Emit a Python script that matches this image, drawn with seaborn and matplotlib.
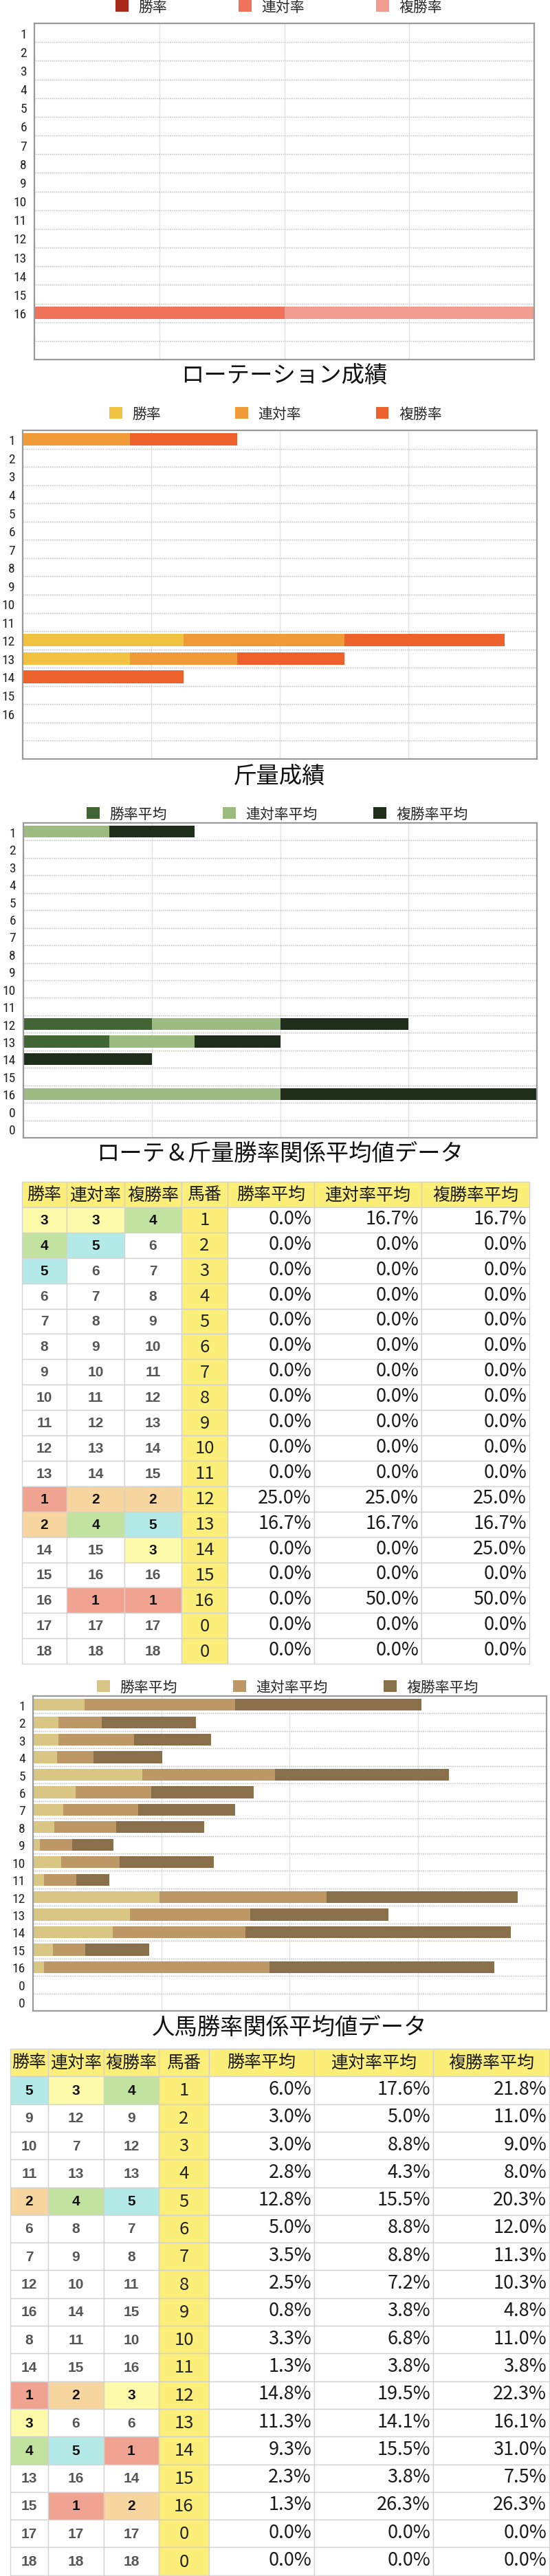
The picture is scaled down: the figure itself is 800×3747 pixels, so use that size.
import numpy as np
import pandas as pd
import matplotlib
matplotlib.use("Agg")
import matplotlib.pyplot as plt
import seaborn as sns
from matplotlib.patches import Rectangle, Patch
from matplotlib import font_manager as fm

sns.set_style("white")
avail = {f.name for f in fm.fontManager.ttflist}
JP = "Noto Sans CJK JP"
plt.rcParams["font.family"] = [JP, "DejaVu Sans"]


def pick(*names):
    for n in names:
        if n in avail:
            return n
    return JP


TICKF = pick("Liberation Sans Narrow", "Roboto Condensed", JP)
RANKF = pick("Liberation Sans", "Roboto", "DejaVu Sans")

# ---------------- data ----------------
labels_blank = [str(i) for i in range(1, 17)] + ["", ""]
labels_zero = [str(i) for i in range(1, 17)] + ["0", "0"]

# chart 1: ローテーション成績
rot_names = ["勝率", "連対率", "複勝率"]
rot_win = [0, 0, 0, 0, 0, 0, 0, 0, 0, 0, 0, 0, 0, 0, 0, 0, 0, 0]
rot_ren = [0, 0, 0, 0, 0, 0, 0, 0, 0, 0, 0, 0, 0, 0, 0, 50.0, 0, 0]
rot_fuku = [0, 0, 0, 0, 0, 0, 0, 0, 0, 0, 0, 0, 0, 0, 0, 50.0, 0, 0]

# chart 2: 斤量成績
kin_names = ["勝率", "連対率", "複勝率"]
kin_win = [0, 0, 0, 0, 0, 0, 0, 0, 0, 0, 0, 25.0, 16.7, 0, 0, 0, 0, 0]
kin_ren = [16.7, 0, 0, 0, 0, 0, 0, 0, 0, 0, 0, 25.0, 16.7, 0, 0, 0, 0, 0]
kin_fuku = [16.7, 0, 0, 0, 0, 0, 0, 0, 0, 0, 0, 25.0, 16.7, 25.0, 0, 0, 0, 0]

avg_names = ["勝率平均", "連対率平均", "複勝率平均"]

# table 1 / chart 3: ローテ＆斤量勝率関係平均値データ
t1_win_rank = [3, 4, 5, 6, 7, 8, 9, 10, 11, 12, 13, 1, 2, 14, 15, 16, 17, 18]
t1_ren_rank = [3, 5, 6, 7, 8, 9, 10, 11, 12, 13, 14, 2, 4, 15, 16, 1, 17, 18]
t1_fuku_rank = [4, 6, 7, 8, 9, 10, 11, 12, 13, 14, 15, 2, 5, 3, 16, 1, 17, 18]
t1_umaban = [1, 2, 3, 4, 5, 6, 7, 8, 9, 10, 11, 12, 13, 14, 15, 16, 0, 0]
t1_win_avg = [0.0, 0.0, 0.0, 0.0, 0.0, 0.0, 0.0, 0.0, 0.0, 0.0, 0.0, 25.0, 16.7, 0.0, 0.0, 0.0, 0.0, 0.0]
t1_ren_avg = [16.7, 0.0, 0.0, 0.0, 0.0, 0.0, 0.0, 0.0, 0.0, 0.0, 0.0, 25.0, 16.7, 0.0, 0.0, 50.0, 0.0, 0.0]
t1_fuku_avg = [16.7, 0.0, 0.0, 0.0, 0.0, 0.0, 0.0, 0.0, 0.0, 0.0, 0.0, 25.0, 16.7, 25.0, 0.0, 50.0, 0.0, 0.0]

# table 2 / chart 4: 人馬勝率関係平均値データ
t2_win_rank = [5, 9, 10, 11, 2, 6, 7, 12, 16, 8, 14, 1, 3, 4, 13, 15, 17, 18]
t2_ren_rank = [3, 12, 7, 13, 4, 8, 9, 10, 14, 11, 15, 2, 6, 5, 16, 1, 17, 18]
t2_fuku_rank = [4, 9, 12, 13, 5, 7, 8, 11, 15, 10, 16, 3, 6, 1, 14, 2, 17, 18]
t2_umaban = [1, 2, 3, 4, 5, 6, 7, 8, 9, 10, 11, 12, 13, 14, 15, 16, 0, 0]
t2_win_avg = [6.0, 3.0, 3.0, 2.8, 12.8, 5.0, 3.5, 2.5, 0.8, 3.3, 1.3, 14.8, 11.3, 9.3, 2.3, 1.3, 0.0, 0.0]
t2_ren_avg = [17.6, 5.0, 8.8, 4.3, 15.5, 8.8, 8.8, 7.2, 3.8, 6.8, 3.8, 19.5, 14.1, 15.5, 3.8, 26.3, 0.0, 0.0]
t2_fuku_avg = [21.8, 11.0, 9.0, 8.0, 20.3, 12.0, 11.3, 10.3, 4.8, 11.0, 3.8, 22.3, 16.1, 31.0, 7.5, 26.3, 0.0, 0.0]

table_header = ["勝率", "連対率", "複勝率", "馬番", "勝率平均", "連対率平均", "複勝率平均"]

# ---------------- figure ----------------
W, H = 800, 3748
fig = plt.figure(figsize=(W / 100, H / 100), dpi=100)
fig.patch.set_facecolor("white")


def bar_chart(box, xmax, labels, s1, s2, s3, names, colors, legend_y,
              first_sq_x, gap, title, title_y):
    l, t, r, b = box
    ax = fig.add_axes([l / W, 1 - b / H, (r - l) / W, (b - t) / H])
    ids = [f"r{i}" for i in range(len(labels))]
    df = pd.DataFrame({"row": ids, "a": s1, "b": s2, "c": s3})
    df["ab"] = df["a"] + df["b"]
    df["abc"] = df["ab"] + df["c"]
    for col, color in [("abc", colors[2]), ("ab", colors[1]), ("a", colors[0])]:
        sns.barplot(data=df, x=col, y="row", order=ids, orient="h",
                    color=color, saturation=1, width=0.68, errorbar=None,
                    linewidth=0, ax=ax, zorder=2)
    n = len(ids)
    ax.set_xlim(0, xmax)
    ax.set_ylim(n - 0.5, -0.5)
    for k in range(1, n):
        ax.axhline(k - 0.5, color="#bdbdbd", ls=(0, (1, 1)), lw=1.0, zorder=1)
    for q in (0.25, 0.5, 0.75):
        ax.axvline(q * xmax, color="#e2e2e2", lw=1.0, zorder=0.5)
    ax.set_xticks([])
    ax.set_yticks(range(n))
    ax.set_yticklabels(labels)
    ax.tick_params(axis="y", length=0, pad=8, labelsize=14, labelcolor="#222222")
    for lab in ax.get_yticklabels():
        lab.set_fontfamily(TICKF)
    ax.set_xlabel("")
    ax.set_ylabel("")
    for s in ax.spines.values():
        s.set_visible(True)
        s.set_color("#9a9a9a")
        s.set_linewidth(1.6)
    handles = [Patch(facecolor=c, edgecolor="none", label=nm) for c, nm in zip(colors, names)]
    ax.legend(handles=handles, loc="center left",
              bbox_to_anchor=(first_sq_x / W, 1 - legend_y / H),
              bbox_transform=fig.transFigure, ncol=3, frameon=False,
              fontsize=15, handlelength=0.9, handleheight=0.9,
              handletextpad=0.7, columnspacing=gap, borderpad=0,
              borderaxespad=0)
    fig.text(((l + r) / 2) / W, 1 - title_y / H, title, ha="center",
             va="center", fontsize=24, color="#111111")
    return ax


bar_chart((50, 35, 777, 524), 100, labels_blank, rot_win, rot_ren, rot_fuku,
          rot_names, ["#A8291A", "#EE735A", "#F09C90"], 11, 168, 5.0,
          "ローテーション成績", 547)
bar_chart((33, 627, 781, 1105), 80, labels_blank, kin_win, kin_ren, kin_fuku,
          kin_names, ["#F1C142", "#F19B38", "#EC612C"], 603, 159, 5.2,
          "斤量成績", 1130)
bar_chart((34, 1198, 781, 1656), 100, labels_zero, t1_win_avg, t1_ren_avg,
          t1_fuku_avg, avg_names, ["#426535", "#9CBB80", "#1E2E1A"], 1185,
          126, 3.9, "ローテ＆斤量勝率関係平均値データ", 1678)
bar_chart((48, 2468, 795, 2926), 60, labels_zero, t2_win_avg, t2_ren_avg,
          t2_fuku_avg, avg_names, ["#D9C685", "#BD9866", "#89704B"], 2455,
          141, 3.9, "人馬勝率関係平均値データ", 2949)

# ---------------- tables ----------------
tax = fig.add_axes([0, 0, 1, 1])
tax.set_xlim(0, W)
tax.set_ylim(H, 0)
tax.axis("off")

YELLOW = "#FBEE79"
RANK_COL = {1: "#F1A391", 2: "#F7D59F", 3: "#FDFAAA", 4: "#C2E29F", 5: "#B3EAE8"}
BORDER = "#d3d3d3"


def draw_table(xs, top, rowh, ranks, umaban, avgs):
    nrows = len(umaban)
    for j, txt in enumerate(table_header):
        x0, x1 = xs[j], xs[j + 1]
        tax.add_patch(Rectangle((x0, top), x1 - x0, rowh, facecolor=YELLOW,
                                edgecolor=BORDER, lw=1))
        tax.text((x0 + x1) / 2, top + rowh / 2, txt, ha="center",
                 va="center", fontsize=18, color="#1a1a1a", family=JP)
    for i in range(nrows):
        y0 = top + rowh * (i + 1)
        yc = y0 + rowh / 2
        for j in range(3):
            v = ranks[j][i]
            x0, x1 = xs[j], xs[j + 1]
            tax.add_patch(Rectangle((x0, y0), x1 - x0, rowh,
                                    facecolor=RANK_COL.get(v, "white"),
                                    edgecolor=BORDER, lw=1))
            tax.text((x0 + x1) / 2, yc, str(v), ha="center", va="center",
                     fontsize=15, fontweight="bold", family=RANKF,
                     color="#111111" if v <= 5 else "#555555")
        x0, x1 = xs[3], xs[4]
        tax.add_patch(Rectangle((x0, y0), x1 - x0, rowh, facecolor=YELLOW,
                                edgecolor=BORDER, lw=1))
        tax.text((x0 + x1) / 2, yc, str(umaban[i]), ha="center", va="center",
                 fontsize=18.5, family=JP, color="#222222")
        for j in range(3):
            x0, x1 = xs[4 + j], xs[5 + j]
            tax.add_patch(Rectangle((x0, y0), x1 - x0, rowh, facecolor="white",
                                    edgecolor=BORDER, lw=1))
            tax.text(x1 - 4, yc - 2, f"{avgs[j][i]:.1f}%", ha="right",
                     va="center", fontsize=19.5, family=JP, color="#1a1a1a")


draw_table([32, 97, 181, 264, 331, 457, 613, 770], 1720, 36.9,
           [t1_win_rank, t1_ren_rank, t1_fuku_rank], t1_umaban,
           [t1_win_avg, t1_ren_avg, t1_fuku_avg])
draw_table([15, 70, 151, 231, 304, 457, 630, 799], 2981, 40.3,
           [t2_win_rank, t2_ren_rank, t2_fuku_rank], t2_umaban,
           [t2_win_avg, t2_ren_avg, t2_fuku_avg])

fig.savefig("out.png", dpi=100, facecolor="white")
